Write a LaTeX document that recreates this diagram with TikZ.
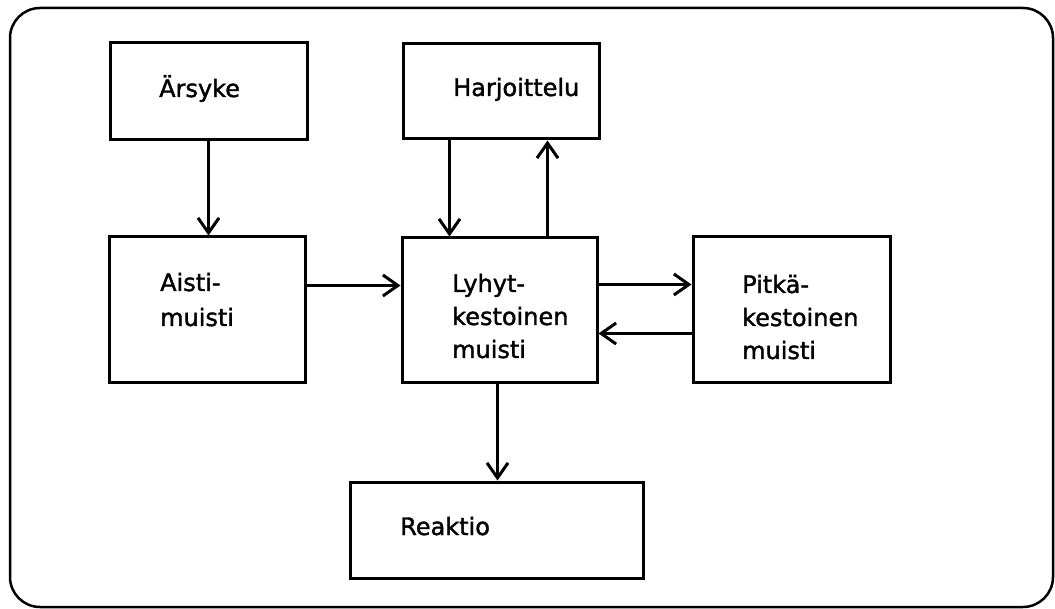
\documentclass[tikz,border=0pt]{standalone}
\usepackage{fontspec}
\setmainfont{DejaVu Sans}
\newfontfamily\lblfont[FakeBold=1.5]{DejaVu Sans}
\usetikzlibrary{arrows.meta}
\begin{document}
\begin{tikzpicture}[x=1pt,y=-1pt,
  box/.style={draw, line width=3pt, rectangle, inner sep=0pt},
  txt/.style={inner sep=0pt, anchor=base west, align=left, font=\lblfont\fontsize{24}{33}\selectfont},
  arr/.style={line width=2.6pt, -{Straight Barb[length=15pt,width=21pt,line width=3pt]}}]
\useasboundingbox (0,0) rectangle (1055,609);
\draw[line width=2.5pt, rounded corners=30pt] (10,8) rectangle (1053,607);
% boxes
\node[box, minimum width=197pt, minimum height=97pt]  (ars) at (208.5,91.5) {};
\node[box, minimum width=196pt, minimum height=95pt]  (har) at (501,91.5) {};
\node[box, minimum width=196pt, minimum height=146pt] (ais) at (207,310) {};
\node[box, minimum width=195pt, minimum height=145pt] (lyh) at (499.5,310.5) {};
\node[box, minimum width=197pt, minimum height=146pt] (pit) at (791.5,310) {};
\node[box, minimum width=293pt, minimum height=96pt]  (rea) at (496.5,530) {};
% texts
\node[txt] (arsT) at (159,97) {Ärsyke};
\node[txt] (harT) at (453,96) {Harjoittelu};
\node[txt] (aisT) at (160,326) {Aisti-\\[2pt]muisti};
\node[txt] (lyhT) at (452,358) {Lyhyt-\\kestoinen\\muisti};
\node[txt] (pitT) at (742,359) {Pitkä-\\kestoinen\\muisti};
\node[txt] (reaT) at (400,535) {Reaktio};
% connectors
\draw[arr] (ars.south) -- (ars.south |- ais.north);
\draw[arr] ([xshift=48pt]har.south west) -- ([xshift=48pt]har.south west |- lyh.north);
\draw[arr] ([xshift=147pt]lyh.north west) -- ([xshift=147pt]lyh.north west |- har.south);
\draw[arr] ([yshift=-50pt]ais.north east) -- ([yshift=-50pt]ais.north east -| lyh.west);
\draw[arr] ([yshift=-48pt]lyh.north east) -- ([yshift=-48pt]lyh.north east -| pit.west);
\draw[arr] ([yshift=-98pt]pit.north west) -- ([yshift=-98pt]pit.north west -| lyh.east);
\draw[arr] ([xshift=-2pt]lyh.south) -- ([xshift=-2pt]lyh.south |- rea.north);
\end{tikzpicture}
\end{document}
